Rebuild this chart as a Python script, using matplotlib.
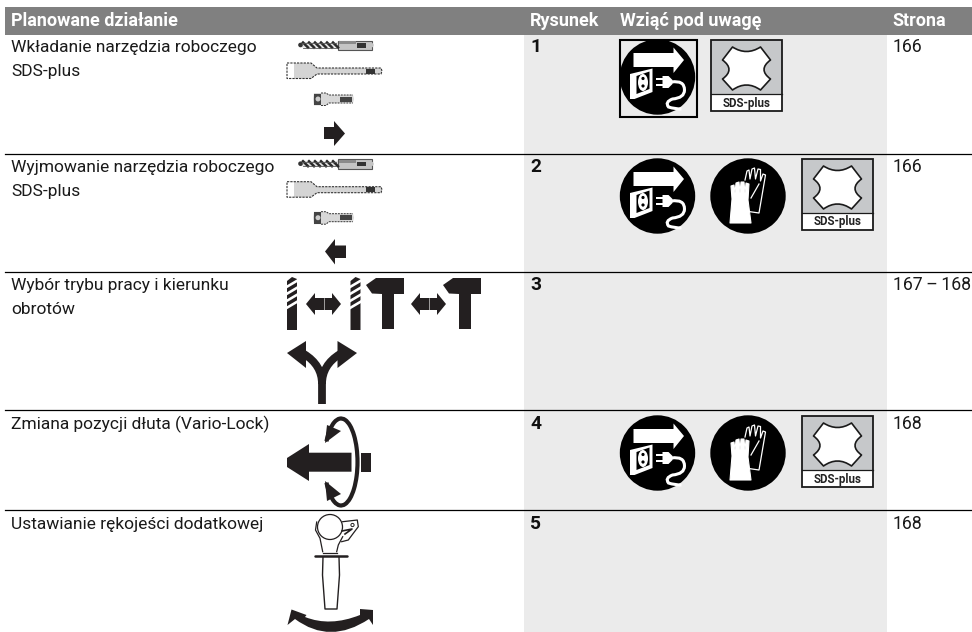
import matplotlib
matplotlib.use("Agg")

import matplotlib.pyplot as plt
from matplotlib.patches import Rectangle, Circle, Polygon, PathPatch, Arc, Ellipse
from matplotlib.path import Path as MPath

plt.rcParams["font.family"] = ["Roboto", "DejaVu Sans"]

# table content
headers = ["Planowane działanie", "Rysunek", "Wziąć pod uwagę", "Strona"]
actions = [
    ["Wkładanie narzędzia roboczego", "SDS-plus"],
    ["Wyjmowanie narzędzia roboczego", "SDS-plus"],
    ["Wybór trybu pracy i kierunku", "obrotów"],
    ["Zmiana pozycji dłuta (Vario-Lock)"],
    ["Ustawianie rękojeści dodatkowej"],
]
figures = ["1", "2", "3", "4", "5"]
pages = ["166", "166", "167\u2009–\u2009168", "168", "168"]
sds_label = "SDS-plus"

BLACK = "#000000"
DARK = "#231f20"
GREY = "#c6c8ca"
SHADE = "#ebebeb"
BAND = "#808080"

row_tops = [34, 153.5, 271.5, 410.3, 510.3]
header_x = [11, 530, 620, 892]

fig = plt.figure(figsize=(9.72, 6.32), dpi=100)
ax = fig.add_axes([0, 0, 1, 1])
ax.set_xlim(0, 972)
ax.set_ylim(632, 0)
ax.axis("off")


def curve(pts, **kw):
    # pts: start point then pairs (control, end)
    verts = [pts[0]]
    codes = [MPath.MOVETO]
    for p in pts[1:]:
        verts.append(p)
        codes.append(MPath.CURVE3)
    ax.add_patch(PathPatch(MPath(verts, codes), **kw))


def poly(pts, color=DARK, **kw):
    ax.add_patch(Polygon(pts, closed=True, fc=color, ec="none", **kw))


def power_icon(cx, cy, frame=False):
    if frame:
        ax.add_patch(Rectangle((cx - 38, cy - 37.5), 77, 77, fc="none", ec=BLACK, lw=1.5))
    ax.add_patch(Circle((cx, cy), 37.7, fc=BLACK, ec="none"))
    # arrow
    poly([(cx - 24, cy - 24), (cx + 16, cy - 24), (cx + 16, cy - 29.5), (cx + 26.5, cy - 17),
          (cx + 16, cy - 4), (cx + 16, cy - 10), (cx - 24, cy - 10)], "white")
    # socket
    poly([(cx - 27.5, cy - 3), (cx - 5, cy - 8.5), (cx - 5, cy + 15), (cx - 23, cy + 22),
          (cx - 27.5, cy + 22)], "white")
    poly([(cx - 21, cy - 1), (cx - 8, cy - 5.5), (cx - 8, cy + 12), (cx - 21, cy + 17)], BLACK)
    ax.add_patch(Ellipse((cx - 14.5, cy + 5.5), 10, 17, fc="white", ec="none"))
    ax.add_patch(Circle((cx - 14.5, cy + 1.5), 1.6, fc=BLACK, ec="none"))
    ax.add_patch(Circle((cx - 14.5, cy + 9), 1.6, fc=BLACK, ec="none"))
    # plug
    ax.add_patch(Rectangle((cx - 2, cy + 1), 7, 2.4, fc="white", ec="none"))
    ax.add_patch(Rectangle((cx - 2, cy + 6.5), 7, 2.4, fc="white", ec="none"))
    poly([(cx + 5, cy - 1), (cx + 11, cy - 1), (cx + 15, cy + 3), (cx + 15, cy + 7),
          (cx + 11, cy + 11), (cx + 5, cy + 11)], "white")
    curve([(cx + 14, cy + 5), (cx + 27, cy + 3), (cx + 27, cy + 13), (cx + 27, cy + 21),
           (cx + 15, cy + 22), (cx + 7, cy + 25), (cx + 11, cy + 30), (cx + 17, cy + 32),
           (cx + 24, cy + 32)], fc="none", ec="white", lw=2.2)


def glove_icon(cx, cy):
    ax.add_patch(Circle((cx, cy), 37.7, fc=BLACK, ec="none"))
    # back glove, outline only
    back = [(-3, -16), (-1, -25), (1, -26), (2, -17), (4, -27), (6.5, -28), (7.5, -17),
            (10, -27), (12.5, -26.5), (12.5, -15), (15, -22), (17.5, -21), (11, 17), (2, 15.7)]
    ax.plot([cx + p[0] for p in back], [cy + p[1] for p in back], color="white", lw=0.9)
    ax.plot([cx + 3, cx + 11], [cy + 2, cy - 12], color="white", lw=0.9)
    # front glove
    front = [(-18, 27), (-16, 3), (-17, -10), (-14, -11), (-13, -3), (-12, -13), (-9, -14),
             (-8, -3), (-7, -14), (-4, -14), (-3, -3), (-2, -13), (1, -12), (0, 4), (3, 27)]
    ax.add_patch(Polygon([(cx + p[0], cy + p[1]) for p in front], closed=True,
                         fc="white", ec="white", lw=0.8, joinstyle="round"))


def sds_icon(x0, y0):
    ax.add_patch(Rectangle((x0, y0), 71.5, 71.5, fc=GREY, ec="none"))
    ax.add_patch(Rectangle((x0, y0 + 54.5), 71.5, 17, fc="white", ec="none"))
    ax.add_patch(Rectangle((x0, y0), 71.5, 71.5, fc="none", ec="#1a1a1a", lw=1.3))
    ax.plot([x0, x0 + 71.5], [y0 + 54.5, y0 + 54.5], color="#1a1a1a", lw=0.9)
    cx, cy = x0 + 36, y0 + 28.5
    verts = [(cx - 14, cy - 21), (cx, cy - 12), (cx + 14, cy - 21),
             (cx + 24, cy - 8), (cx + 11, cy + 1.5), (cx + 24, cy + 11),
             (cx + 14, cy + 22), (cx, cy + 12), (cx - 14, cy + 22),
             (cx - 24, cy + 11), (cx - 11, cy + 1.5), (cx - 24, cy - 8), (cx - 14, cy - 21)]
    codes = [MPath.MOVETO, MPath.CURVE3, MPath.CURVE3, MPath.LINETO, MPath.CURVE3, MPath.CURVE3,
             MPath.LINETO, MPath.CURVE3, MPath.CURVE3, MPath.LINETO, MPath.CURVE3, MPath.CURVE3,
             MPath.CLOSEPOLY]
    ax.add_patch(PathPatch(MPath(verts, codes), fc="white", ec="#1a1a1a", lw=1.2, joinstyle="round"))
    ax.text(x0 + 35.8, y0 + 67, sds_label, fontsize=8.3, fontweight="bold", color="#222222",
            ha="center", va="baseline")


def bits(dy):
    # drill
    poly([(298, 44 + dy), (302, 42 + dy), (335, 43 + dy), (340, 40.5 + dy), (340, 49.5 + dy),
          (335, 47.5 + dy), (302, 47.5 + dy)], "#e0e0e0")
    ax.add_patch(Circle((300.5, 45 + dy), 2.3, fc="#333333", ec="none"))
    for x in range(303, 336, 6):
        ax.plot([x, x + 5], [42.5 + dy, 47.5 + dy], color="#2a2a2a", lw=1.8)
    ax.plot([303, 336], [43 + dy, 43 + dy], color="#555555", lw=0.6)
    ax.plot([303, 336], [47.5 + dy, 47.5 + dy], color="#555555", lw=0.6)
    ax.add_patch(Rectangle((338, 40.5 + dy), 34, 9.5, fc="#c4c4c4", ec="#555555", lw=0.8))
    ax.add_patch(Rectangle((339, 41 + dy), 17, 3, fc="#8a8a8a", ec="none"))
    ax.add_patch(Circle((371.5, 45.2 + dy), 2.2, fc="#c4c4c4", ec="none"))
    ax.add_patch(Rectangle((357, 43 + dy), 9, 4.5, fc="#333333", ec="none"))
    # chisel
    poly([(287, 63 + dy), (311, 63 + dy), (317, 68 + dy), (381, 68 + dy), (382, 71 + dy),
          (381, 74 + dy), (317, 74 + dy), (311, 78.5 + dy), (287, 78.5 + dy)], "#d4d4d4")
    ax.add_patch(Rectangle((287, 63 + dy), 7, 15.5, fc="white", ec="none"))
    ax.plot([287, 311, 317, 381, 382, 381, 317, 311, 287, 287],
            [63 + dy, 63 + dy, 68 + dy, 68 + dy, 71 + dy, 74 + dy, 74 + dy, 78.5 + dy, 78.5 + dy, 63 + dy],
            color="#333333", lw=0.8, ls=(0, (2, 1)))
    ax.add_patch(Rectangle((366, 68.5 + dy), 9, 5, fc="#333333", ec="none"))
    # socket bit
    poly([(314, 93 + dy), (326, 93 + dy), (329, 95 + dy), (353, 95 + dy), (354, 99 + dy),
          (353, 103 + dy), (329, 103 + dy), (326, 105.5 + dy), (314, 105.5 + dy), (313, 99 + dy)], "#d8d8d8")
    ax.add_patch(Rectangle((314, 93.5 + dy), 7, 11.5, fc="#444444", ec="none"))
    ax.add_patch(Circle((318, 99 + dy), 2.5, fc="#cccccc", ec="none"))
    ax.add_patch(Rectangle((340, 96.5 + dy), 12, 5, fc="#444444", ec="none"))
    ax.plot([321, 326, 329, 353], [93 + dy, 93 + dy, 95 + dy, 95 + dy], color="#333333", lw=0.7, ls=(0, (2, 1)))
    ax.plot([321, 326, 329, 353], [105.5 + dy, 105.5 + dy, 103 + dy, 103 + dy], color="#333333", lw=0.7, ls=(0, (2, 1)))


def mode_drill(x):
    poly([(x, 281), (x + 5, 277), (x + 10, 279), (x + 10, 330), (x, 330)], DARK)
    for y in [285.5, 292.5, 299.5, 306.5]:
        poly([(x - 0.5, y), (x + 10.5, y - 6.5), (x + 10.5, y - 3.5), (x - 0.5, y + 3)], "white")


def mode_arrows(x):
    poly([(x, 304), (x + 9, 293), (x + 9, 298), (x + 26, 298), (x + 26, 293), (x + 35, 304),
          (x + 26, 315), (x + 26, 310), (x + 9, 310), (x + 9, 315)], DARK)
    ax.plot([x + 17.5, x + 17.5], [298, 310], color="white", lw=0.4)


def hammer(x):
    poly([(x, 285), (x + 10, 278), (x + 38, 278), (x + 38, 294), (x + 28, 294), (x + 28, 329),
          (x + 16, 329), (x + 16, 294), (x + 6, 293.5)], DARK)


# header band, shaded column and rules
ax.add_patch(Rectangle((5, 7), 967, 27.5, fc=BAND, ec="none"))
ax.add_patch(Rectangle((524, 34.5), 363, 597.5, fc=SHADE, ec="none"))
for y in row_tops[1:]:
    ax.plot([5, 972], [y, y], color=BLACK, lw=0.9)

for x, h in zip(header_x, headers):
    ax.text(x, 26, h, color="white", fontsize=13, fontweight="bold", va="baseline")

for top, lines, f, p in zip(row_tops, actions, figures, pages):
    for i, line in enumerate(lines):
        ax.text(11, top + 18.4 + i * 24, line, color="#1a1a1a", fontsize=12.5, va="baseline")
    ax.text(530, top + 18.4, f, color="#111111", fontsize=13.8, fontweight="bold", va="baseline")
    ax.text(892.5, top + 18.4, p, color="#1a1a1a", fontsize=12.7, va="baseline")

# row 1 and 2 icons
bits(0)
bits(118.7)
poly([(324, 127), (334, 127), (334, 121), (345, 133.5), (334, 146), (334, 139), (324, 139)])
poly([(346, 245.5), (335, 245.5), (335, 239), (325, 251.5), (335, 264.5), (335, 258), (346, 258)])
power_icon(657.5, 77, frame=True)
sds_icon(710.5, 39.5)
power_icon(657.5, 196)
glove_icon(748, 196)
sds_icon(801.5, 158.5)
power_icon(657.5, 453)
glove_icon(748, 453)
sds_icon(801.5, 415.5)

# row 3 icons
mode_drill(287)
mode_arrows(306)
mode_drill(350.5)
hammer(366)
mode_arrows(411)
hammer(443)
ax.plot([322, 322], [404, 380], color=DARK, lw=5.6, solid_capstyle="butt")
curve([(322, 384), (322, 365), (304, 354)], fc="none", ec=DARK, lw=5.6)
curve([(322, 384), (322, 365), (340, 354)], fc="none", ec=DARK, lw=5.6)
poly([(287, 353), (306, 341), (306, 368)])
poly([(357, 353), (337.5, 341), (337.5, 368)])

# row 4 icon
poly([(287, 458), (309, 444), (309, 452.7), (351.5, 452.7), (351.5, 471.7), (309, 471.7),
      (309, 481), (287, 467)])
ax.add_patch(Rectangle((361, 452.7), 10, 19, fc=DARK, ec="none"))
ax.add_patch(Arc((341, 462), 33, 87, theta1=-125, theta2=125, ec=DARK, lw=3))
poly([(325, 443), (327, 425), (341, 431)])
poly([(325, 481), (327, 501), (341, 494)])

# row 5 icon
ax.add_patch(Circle((330, 527), 12.5, fc="white", ec=DARK, lw=0.9))
ax.plot([316.7, 315.5, 320, 322.7], [522, 530, 538.3, 551.7], color=DARK, lw=0.9)
ax.plot([342.7, 338.3, 336.7], [536.7, 545, 551.7], color=DARK, lw=0.9)
ax.plot([322.7, 336.7], [552.5, 552.5], color=DARK, lw=0.9)
ax.plot([342.7, 357.3, 358.3, 353.3, 348.3, 341.7], [521.7, 520, 526.7, 533.3, 540, 541.7], color=DARK, lw=0.9)
ax.plot([342, 352, 345], [531, 529, 534], color=DARK, lw=1.2)
ax.add_patch(Circle((352.5, 525), 1.6, fc="white", ec=DARK, lw=0.7))
ax.plot([315, 347], [555.5, 555.5], color=DARK, lw=1.8, solid_capstyle="round")
ax.plot([323, 322.5, 325, 337, 339.5, 339], [557, 575, 609, 609, 575, 557], color=DARK, lw=1)
ax.add_patch(PathPatch(MPath(
    [(287.5, 625), (291.5, 609.5), (306.5, 615), (305, 617), (330, 627), (360, 615), (360, 609),
     (373, 610), (373, 625), (369, 619), (330, 645), (295, 619), (287.5, 625)],
    [MPath.MOVETO, MPath.LINETO, MPath.LINETO, MPath.LINETO, MPath.CURVE3, MPath.CURVE3, MPath.LINETO,
     MPath.LINETO, MPath.LINETO, MPath.LINETO, MPath.CURVE3, MPath.CURVE3, MPath.CLOSEPOLY]),
    fc=DARK, ec="none"))

fig.savefig("out.png", dpi=100)
